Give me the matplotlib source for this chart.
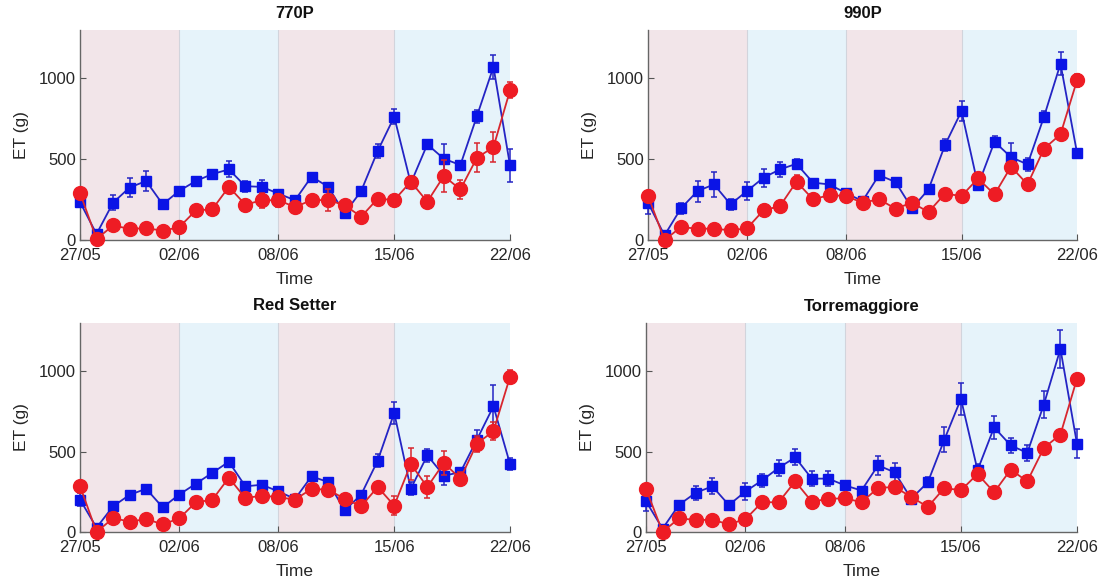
import numpy as np
import pandas as pd
import matplotlib
matplotlib.use('Agg')
import matplotlib.pyplot as plt

plt.rcParams['font.family'] = ['Liberation Sans', 'DejaVu Sans']

days = pd.date_range('2019-05-27', '2019-06-22', freq='D')
tick_days = pd.to_datetime(['2019-05-27', '2019-06-02', '2019-06-08', '2019-06-15', '2019-06-22'])
tick_labels = ['27/05', '02/06', '08/06', '15/06', '22/06']
periods = [('2019-05-27', '2019-06-02', '#f2e5e9'),
           ('2019-06-02', '2019-06-08', '#e6f3fa'),
           ('2019-06-08', '2019-06-15', '#f2e5e9'),
           ('2019-06-15', '2019-06-22', '#e6f3fa')]

titles = ['770P', '990P', 'Red Setter', 'Torremaggiore']

# blue squares
blue_770 = [235, 37, 231, 325, 365, 221, 304, 365, 408, 437, 333, 329, 287, 246, 392, 330, 165, 303, 551, 763, 351, 592, 503, 464, 767, 1072, 462]
blue_990 = [231, 29, 196, 303, 344, 221, 303, 386, 437, 472, 355, 344, 290, 241, 402, 359, 196, 313, 588, 798, 338, 608, 513, 468, 763, 1091, 540]
blue_rs = [202, 27, 160, 231, 269, 153, 233, 300, 368, 437, 284, 294, 252, 206, 346, 311, 135, 232, 444, 741, 268, 477, 351, 371, 575, 782, 423]
blue_tm = [191, 21, 170, 244, 284, 168, 252, 321, 399, 464, 332, 332, 290, 258, 415, 371, 207, 309, 575, 828, 384, 651, 539, 492, 793, 1139, 548]

blue_770_err = [20, 10, 45, 60, 60, 15, 15, 15, 15, 50, 35, 40, 15, 15, 15, 20, 25, 20, 45, 45, 20, 30, 90, 20, 40, 75, 100]
blue_990_err = [70, 10, 35, 65, 75, 35, 55, 55, 45, 30, 15, 15, 15, 15, 15, 15, 25, 15, 40, 60, 15, 35, 90, 40, 35, 70, 15]
blue_rs_err = [40, 10, 15, 15, 15, 15, 15, 15, 15, 15, 15, 15, 15, 15, 15, 15, 15, 15, 40, 70, 40, 40, 60, 15, 60, 130, 40]
blue_tm_err = [60, 10, 15, 45, 50, 15, 50, 40, 50, 50, 45, 45, 30, 15, 60, 60, 30, 30, 80, 100, 40, 70, 45, 50, 85, 120, 90]

# red circles
red_770 = [292, 6, 90, 69, 73, 58, 79, 183, 190, 329, 219, 246, 246, 204, 247, 247, 216, 144, 256, 247, 361, 237, 396, 313, 509, 575, 926]
red_990 = [275, 0, 80, 70, 70, 60, 72, 184, 210, 361, 252, 278, 272, 231, 252, 194, 231, 173, 287, 272, 381, 282, 454, 344, 565, 654, 988]
red_rs = [286, 0, 86, 65, 80, 48, 84, 185, 200, 338, 210, 227, 216, 202, 268, 263, 207, 160, 280, 164, 423, 280, 429, 332, 550, 627, 965]
red_tm = [269, 0, 86, 74, 76, 48, 80, 185, 185, 315, 189, 206, 210, 185, 274, 280, 218, 156, 274, 259, 361, 247, 388, 315, 523, 606, 954]

red_770_err = [15, 10, 10, 10, 10, 10, 10, 10, 10, 15, 30, 45, 40, 35, 15, 70, 15, 15, 15, 15, 15, 40, 97, 60, 90, 95, 50]
red_990_err = [15, 10, 10, 10, 10, 10, 10, 10, 10, 40, 15, 15, 15, 15, 15, 15, 15, 15, 15, 15, 15, 25, 30, 30, 30, 30, 40]
red_rs_err = [15, 10, 10, 10, 10, 10, 10, 10, 10, 15, 15, 15, 15, 15, 15, 15, 15, 15, 15, 60, 100, 70, 75, 40, 50, 55, 40]
red_tm_err = [15, 10, 10, 10, 10, 10, 10, 10, 10, 15, 15, 15, 15, 15, 15, 15, 15, 15, 15, 15, 40, 15, 15, 15, 15, 15, 15]

blues = [blue_770, blue_990, blue_rs, blue_tm]
blue_errs = [blue_770_err, blue_990_err, blue_rs_err, blue_tm_err]
reds = [red_770, red_990, red_rs, red_tm]
red_errs = [red_770_err, red_990_err, red_rs_err, red_tm_err]

W, H = 1109, 587
fig = plt.figure(figsize=(W / 100, H / 100), dpi=100)

# axes boxes in pixels: left, top, right, bottom
boxes = [(80, 30, 510, 240), (648, 30, 1077, 240),
         (80, 323, 510, 532), (646, 323, 1077, 532)]

txt = '#262626'
for i, (l, t, r, b) in enumerate(boxes):
    ax = fig.add_axes([l / W, 1 - b / H, (r - l) / W, (b - t) / H])
    for s, e, c in periods:
        ax.axvspan(pd.Timestamp(s), pd.Timestamp(e), color=c, lw=0, zorder=0)
    for d in tick_days[1:-1]:
        ax.axvline(d, color='#d2d4dc', lw=0.8, zorder=0.5)

    ax.errorbar(days, blues[i], yerr=blue_errs[i], color='#2424c4', lw=1.3,
                marker='s', ms=6.5, mfc='#0a14e6', mec='#0a14e6',
                elinewidth=1.1, capsize=2.5, capthick=1.1, clip_on=False, zorder=3)
    ax.errorbar(days, reds[i], yerr=red_errs[i], color='#d8262e', lw=1.3,
                marker='o', ms=10, mfc='#ee1c24', mec='#ee1c24',
                elinewidth=1.1, capsize=2.5, capthick=1.1, clip_on=False, zorder=4)

    ax.set_xlim(days[0], days[-1])
    ax.set_ylim(0, 1300)
    ax.set_xticks(tick_days)
    ax.set_xticklabels(tick_labels)
    ax.set_yticks([0, 500, 1000])
    ax.tick_params(direction='in', length=4, labelsize=12, colors='#555555', labelcolor=txt)
    ax.tick_params(axis='x', pad=6)
    ax.tick_params(axis='y', pad=3)
    for s in ['top', 'right']:
        ax.spines[s].set_visible(False)
    for s in ['left', 'bottom']:
        ax.spines[s].set_color('#666666')
        ax.spines[s].set_linewidth(1.0)
    ax.set_xlabel('Time', fontsize=12.5, color=txt, labelpad=6)
    ax.set_ylabel('ET (g)', fontsize=12.5, color=txt, labelpad=7)
    ax.set_title(titles[i], fontsize=12, fontweight='bold', color='#111111', pad=9)

plt.savefig('out.png', dpi=100)
plt.close(fig)
